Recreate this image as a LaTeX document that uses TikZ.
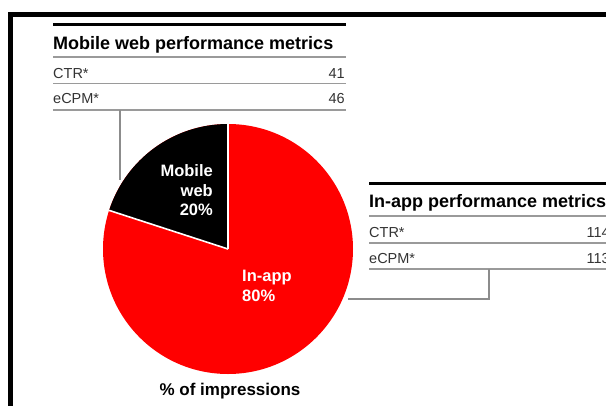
\documentclass[tikz,border=0pt]{standalone}
\usepackage{fontspec}
\setmainfont{Liberation Sans}
\definecolor{rowtext}{HTML}{333333}
\definecolor{rulegray}{HTML}{9A9A9A}
\definecolor{leadgray}{HTML}{8C8C8C}
\definecolor{pied}{HTML}{FF0000}
\begin{document}
\begin{tikzpicture}[x=1pt,y=-1pt,
  tabletitle/.style={font=\bfseries\fontsize{18}{18}\selectfont, anchor=base west, inner sep=0pt},
  rowlabel/.style={font=\fontsize{14.5}{14.5}\selectfont, text=rowtext, anchor=base west, inner sep=0pt},
  rowvalue/.style={font=\fontsize{14.5}{14.5}\selectfont, text=rowtext, anchor=base east, inner sep=0pt},
  heavyrule/.style={line width=3pt},
  thinrule/.style={draw=rulegray, line width=1.2pt},
  leader/.style={draw=leadgray, line width=1.5pt},
  slicelabel/.style={font=\bfseries\fontsize{16.5}{19.5}\selectfont, text=white, inner sep=0pt},
  caption/.style={font=\bfseries\fontsize{17}{17}\selectfont, anchor=base, inner sep=0pt}]
\useasboundingbox (0,0) rectangle (606,405);
\clip (0,0) rectangle (606,405);
\fill[white] (0,0) rectangle (606,405);

% outer frame (open at right and bottom)
\draw[line width=5pt] (10.5,420) -- (10.5,14) -- (620,14);

% pie: 80% in-app, 20% mobile web
\coordinate (c) at (228,249);
\fill[pied] (c) circle[radius=125];
\fill[black] (c) -- ++(270:125) arc[start angle=270, end angle=198, radius=125] -- cycle;
\draw[white, line width=1.6pt] (c) -- ++(270:125);
\draw[white, line width=1.6pt] (c) -- ++(198:125);
\coordinate (pietop) at (120,180);

\node[slicelabel, align=right, anchor=north east] (mwlabel) at (213,164.5) {Mobile\\web\\20\%};
\node[slicelabel, align=left, anchor=north west] (ialabel) at (242,270) {In-app\\80\%};
\node[caption] (cap) at (230,395) {\% of impressions};

% mobile web table
\draw[heavyrule] (53,24.5) -- (346,24.5);
\node[tabletitle] (mwtitle) at (53,49) {Mobile web performance metrics};
\draw[thinrule] (53,57) -- (346,57);
\node[rowlabel] (mwctr) at (53,78) {CTR*};
\node[rowvalue] (mwctrv) at (345,78) {41};
\draw[thinrule] (53,83.5) -- (346,83.5);
\node[rowlabel] (mwecpm) at (53,103.5) {eCPM*};
\node[rowvalue] (mwecpmv) at (345,103.5) {46};
\draw[thinrule] (53,110) -- (346,110);
\coordinate (mwbase) at (120,110);

% in-app table (runs past the right edge)
\draw[heavyrule] (369,183) -- (620,183);
\node[tabletitle] (iatitle) at (369,207) {In-app performance metrics};
\draw[thinrule] (369,216) -- (620,216);
\node[rowlabel] (iactr) at (369,237) {CTR*};
\node[rowvalue] (iactrv) at (610,237) {114};
\draw[thinrule] (369,243) -- (620,243);
\node[rowlabel] (iaecpm) at (369,263) {eCPM*};
\node[rowvalue] (iaecpmv) at (610,263) {113};
\draw[thinrule] (369,269) -- (620,269);
\coordinate (iabase) at (489,269);
\coordinate (pieright) at (348,299);

% leaders from the tables to the pie
\draw[leader] (mwbase) -- (pietop);
\draw[leader] (iabase) |- (pieright);
\end{tikzpicture}
\end{document}
